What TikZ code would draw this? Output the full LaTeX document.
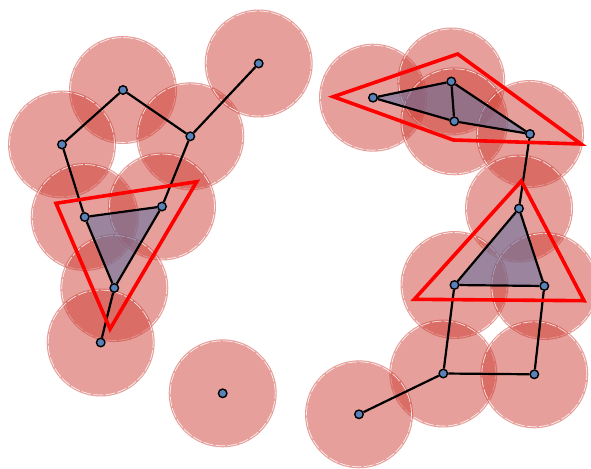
\documentclass[tikz,border=0pt]{standalone}
\usetikzlibrary{backgrounds}
\definecolor{circred}{RGB}{205,60,50}
\definecolor{trifill}{RGB}{100,115,160}
\definecolor{dotblue}{RGB}{90,130,185}
\pgfdeclarelayer{bg}
\pgfsetlayers{bg,main}
\tikzset{
  dot/.style={circle, inner sep=0pt, minimum size=8.5pt, draw=black, line width=1.4pt, fill=dotblue},
  ball/.style={fill=circred, fill opacity=0.49},
  ballrim/.style={draw=white, draw opacity=0.85, line width=0.7pt, dash pattern=on 10pt off 2pt},
  simplex/.style={fill=trifill, fill opacity=0.58},
  edge/.style={draw=black, line width=2.2pt},
  hull/.style={draw=red, line width=3.6pt, line join=miter}
}
\begin{document}
\begin{tikzpicture}[x=1pt,y=-1pt]
\useasboundingbox (0,0) rectangle (591,468);
\clip (0,0) rectangle (591,468);
% vertices
\node[dot] (A) at (123,90) {};
\node[dot] (B) at (62,144.5) {};
\node[dot] (C) at (190.3,136.3) {};
\node[dot] (D) at (258.7,63.5) {};
\node[dot] (E) at (84.7,217) {};
\node[dot] (F) at (162,206.5) {};
\node[dot] (G) at (114.3,288) {};
\node[dot] (H) at (100.7,342.5) {};
\node[dot] (I) at (222.7,393.3) {};
\node[dot] (J) at (373,97.7) {};
\node[dot] (K) at (451.3,81.5) {};
\node[dot] (L) at (454.3,121.3) {};
\node[dot] (M) at (530,134) {};
\node[dot] (N) at (519,208.5) {};
\node[dot] (O) at (454.5,285) {};
\node[dot] (P) at (544.3,286) {};
\node[dot] (Q) at (443.3,373.5) {};
\node[dot] (R) at (534.3,374.3) {};
\node[dot] (S) at (359,414.3) {};
\begin{pgfonlayer}{bg}
% balls
\foreach \v in {A,B,C,D,E,F,G,H,I,J,K,L,M,N,O,P,Q,R,S}{
  \path[ball] (\v.center) circle[radius=54pt];
  \path[ballrim] (\v.center) circle[radius=52.5pt];
}
% filled simplices
\fill[simplex] (E.center) -- (F.center) -- (G.center) -- cycle;
\fill[simplex] (J.center) -- (K.center) -- (L.center) -- cycle;
\fill[simplex] (K.center) -- (M.center) -- (L.center) -- cycle;
\fill[simplex] (N.center) -- (O.center) -- (P.center) -- cycle;
% edges
\draw[edge] (A) -- (B);
\draw[edge] (A) -- (C);
\draw[edge] (C) -- (D);
\draw[edge] (B) -- (E);
\draw[edge] (C) -- (F);
\draw[edge] (E) -- (F);
\draw[edge] (E) -- (G);
\draw[edge] (F) -- (G);
\draw[edge] (G) -- (H);
\draw[edge] (J) -- (K);
\draw[edge] (J) -- (L);
\draw[edge] (K) -- (L);
\draw[edge] (K) -- (M);
\draw[edge] (L) -- (M);
\draw[edge] (M) -- (N);
\draw[edge] (N) -- (O);
\draw[edge] (N) -- (P);
\draw[edge] (O) -- (P);
\draw[edge] (O) -- (Q);
\draw[edge] (P) -- (R);
\draw[edge] (Q) -- (R);
\draw[edge] (Q) -- (S);
% red hulls
\coordinate (h1) at (56,203.3);
\coordinate (h2) at (196.7,181.7);
\coordinate (h3) at (110,329);
\draw[hull] (h1) -- (h2) -- (h3) -- cycle;
\coordinate (h4) at (333.3,96.7);
\coordinate (h5) at (457.7,54);
\coordinate (h6) at (581,144);
\coordinate (h7) at (453.3,140);
\draw[hull] (h4) -- (h5) -- (h6) -- (h7) -- cycle;
\coordinate (h8) at (521.3,181);
\coordinate (h9) at (414.3,299.3);
\coordinate (h10) at (584,300.7);
\draw[hull] (h8) -- (h9) -- (h10) -- cycle;
\end{pgfonlayer}
\end{tikzpicture}
\end{document}
